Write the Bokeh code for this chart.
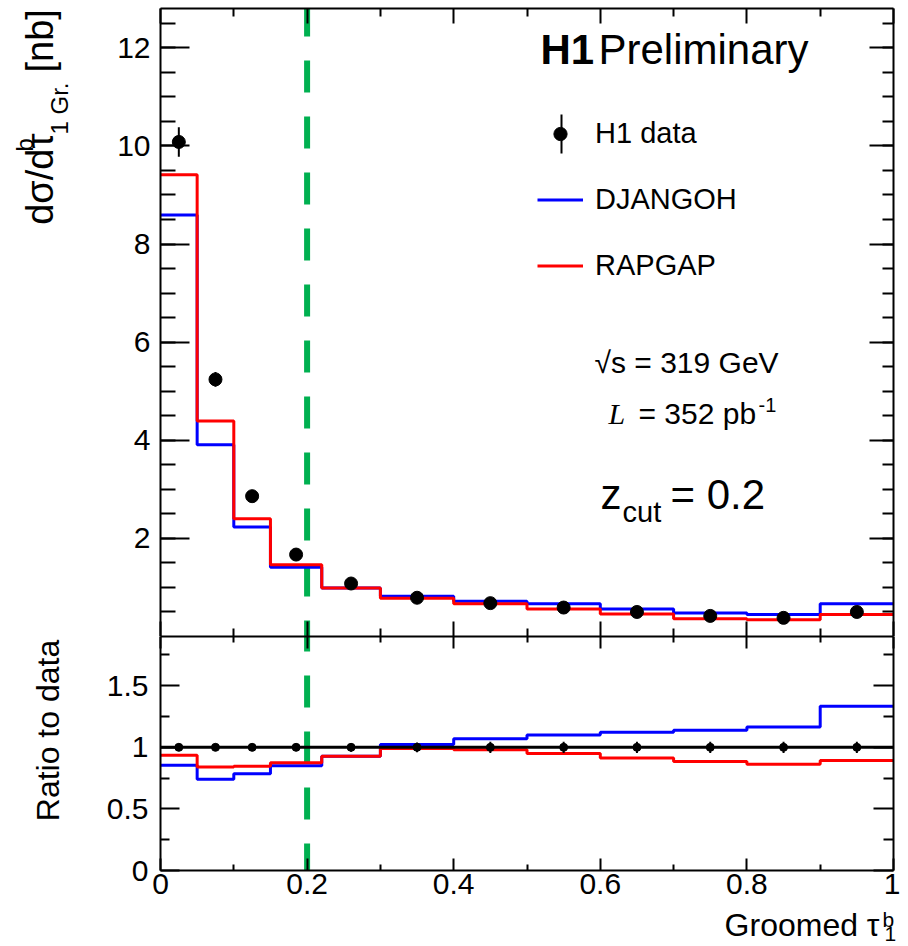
import math
from bokeh.plotting import figure
from bokeh.models import (FixedTicker, LinearAxis, Range1d, Label, Legend, LegendItem,
                          BoxAnnotation, ColumnDataSource)
from bokeh.layouts import column, row
from bokeh.embed import file_html
from bokeh.resources import INLINE

# ---------------- data ----------------
bin_edges = [0.0, 0.05, 0.10, 0.15, 0.22, 0.30, 0.40, 0.50, 0.60, 0.70, 0.80, 0.90, 1.00]
bin_centers = [0.025, 0.075, 0.125, 0.185, 0.26, 0.35, 0.45, 0.55, 0.65, 0.75, 0.85, 0.95]
data_xsec = [10.08, 5.24, 2.86, 1.67, 1.08, 0.79, 0.68, 0.59, 0.50, 0.42, 0.38, 0.50]
data_err = [0.30, 0.15, 0.09, 0.05, 0.04, 0.03, 0.03, 0.027, 0.023, 0.019, 0.017, 0.023]
djangoh_xsec = [8.59, 3.91, 2.23, 1.41, 0.99, 0.82, 0.72, 0.67, 0.56, 0.48, 0.45, 0.67]
rapgap_xsec = [9.41, 4.39, 2.40, 1.46, 0.99, 0.78, 0.67, 0.56, 0.46, 0.36, 0.34, 0.45]

ratio_data = [1.0, 1.0, 1.0, 1.0, 1.0, 1.0, 1.0, 1.0, 1.0, 1.0, 1.0, 1.0]
ratio_data_err = [0.03, 0.03, 0.03, 0.03, 0.035, 0.04, 0.045, 0.045, 0.045, 0.045, 0.045, 0.045]
ratio_djangoh = [0.854, 0.74, 0.786, 0.851, 0.927, 1.024, 1.07, 1.10, 1.122, 1.138, 1.165, 1.333]
ratio_rapgap = [0.935, 0.84, 0.846, 0.875, 0.927, 0.99, 0.98, 0.949, 0.913, 0.886, 0.862, 0.894]

z_cut = 0.2

x_ticks = [0.0, 0.2, 0.4, 0.6, 0.8, 1.0]
x_tick_labels = ["0", "0.2", "0.4", "0.6", "0.8", "1"]
x_minor = [0.1, 0.3, 0.5, 0.7, 0.9]
top_y_ticks = [2, 4, 6, 8, 10, 12]
top_y_tick_labels = ["2", "4", "6", "8", "10", "12"]
top_y_minor = [0.5 * i for i in range(1, 26)]
ratio_y_ticks = [0.0, 0.5, 1.0, 1.5]
ratio_y_tick_labels = ["0", "0.5", "1", "1.5"]
ratio_y_minor = [0.25, 0.75, 1.25, 1.75]

top_range = (0.0, 12.8)
ratio_range = (0.0, 1.9)

FONT = "Liberation Sans"
BLUE = "#0000ff"
RED = "#ff0000"
GREEN = "#00b050"
SHIFT = 0.38  # baseline compensation (fraction of font size)


def step_src(vals):
    return ColumnDataSource(dict(x=bin_edges, y=list(vals) + [vals[-1]]))


def make_axis(fig, place, ticks, minor, major_in, minor_in, labels=None, size="30px", standoff=10):
    ax = LinearAxis(ticker=FixedTicker(ticks=ticks, minor_ticks=minor))
    ax.major_tick_in = major_in
    ax.major_tick_out = 0
    ax.minor_tick_in = minor_in
    ax.minor_tick_out = 0
    ax.axis_line_width = 2
    ax.major_tick_line_width = 2
    ax.minor_tick_line_width = 2
    ax.axis_line_color = "black"
    ax.major_tick_line_color = "black"
    ax.minor_tick_line_color = "black"
    if labels is not None:
        ax.major_label_overrides = {t: l for t, l in zip(ticks, labels)}
        ax.major_label_text_font = FONT
        ax.major_label_text_font_size = size
        ax.major_label_text_color = "black"
        ax.major_label_standoff = standoff
    else:
        ax.major_label_text_font_size = "1px"
        ax.major_label_text_color = None
        ax.major_label_standoff = 0
    fig.add_layout(ax, place)
    return ax


def lbl(fig, x, y, text, size_px, align="left", angle=0.0, style="normal", font=FONT):
    d = SHIFT * size_px
    if angle == 0.0:
        y = y + d
    else:
        x = x - d
    fig.add_layout(Label(x=x, y=y, x_units="screen", y_units="screen", text=text,
                         text_font=font, text_font_size=f"{size_px}px", text_font_style=style,
                         text_align=align, text_baseline="alphabetic", angle=angle,
                         text_color="black"))


def blank_fig(w, h):
    f = figure(width=w, height=h, x_range=Range1d(0, 1), y_range=Range1d(0, 1),
               output_backend="svg", toolbar_location=None,
               x_axis_location=None, y_axis_location=None,
               min_border_left=0, min_border_right=0, min_border_top=0, min_border_bottom=0)
    f.outline_line_color = None
    f.grid.visible = False
    f.background_fill_color = "white"
    f.border_fill_color = "white"
    return f


# ---------------- top panel ----------------
top = figure(width=824, height=636, x_range=Range1d(0, 1), y_range=Range1d(*top_range),
             output_backend="svg", toolbar_location=None,
             x_axis_location=None, y_axis_location=None,
             min_border_left=84, min_border_right=7, min_border_top=8, min_border_bottom=0)
top.outline_line_color = None
top.grid.visible = False
top.background_fill_color = "white"
top.border_fill_color = "white"

make_axis(top, "left", top_y_ticks, top_y_minor, 29, 15, top_y_tick_labels)
make_axis(top, "right", top_y_ticks, top_y_minor, 24, 11)
make_axis(top, "above", x_ticks, x_minor, 15, 8)
make_axis(top, "below", x_ticks, x_minor, 15, 8)

top.segment(x0=[z_cut], y0=[top_range[0]], x1=[z_cut], y1=[top_range[1]],
            line_color=GREEN, line_width=6, line_dash="32 24", line_dash_offset=16)

r_blue = top.step("x", "y", source=step_src(djangoh_xsec), mode="after", line_color=BLUE, line_width=3)
r_red = top.step("x", "y", source=step_src(rapgap_xsec), mode="after", line_color=RED, line_width=3)

top.segment(x0=bin_centers, x1=bin_centers,
            y0=[v - e for v, e in zip(data_xsec, data_err)],
            y1=[v + e for v, e in zip(data_xsec, data_err)],
            line_color="black", line_width=2)
r_data = top.scatter(bin_centers, data_xsec, size=13, color="black")

legend = Legend(items=[LegendItem(label="H1 data", renderers=[r_data]),
                       LegendItem(label="DJANGOH", renderers=[r_blue]),
                       LegendItem(label="RAPGAP", renderers=[r_red])],
                location=(377, 354), glyph_width=46, glyph_height=33, label_height=33,
                spacing=33, padding=0, margin=0, label_standoff=12,
                border_line_color=None, background_fill_alpha=0,
                label_text_font=FONT, label_text_font_size="29px", label_text_color="black")
top.add_layout(legend)
top.add_layout(BoxAnnotation(left=400, right=402, top=522, bottom=483,
                             left_units="screen", right_units="screen",
                             top_units="screen", bottom_units="screen",
                             fill_color="black", fill_alpha=1, line_color=None))

lbl(top, 380, 571, "H1", 42, style="bold")
lbl(top, 438, 571, "Preliminary", 42)
lbl(top, 434, 263, "\u221As = 319 GeV", 30)
lbl(top, 448, 212, "L", 30, style="italic", font="Liberation Serif")
lbl(top, 478, 212, "= 352 pb", 30)
lbl(top, 598, 224, "-1", 20)
lbl(top, 440, 126, "z", 42)
lbl(top, 462, 113, "cut", 29)
lbl(top, 510, 126, "= 0.2", 42)

# ---------------- ratio panel ----------------
bot = figure(width=824, height=271, x_range=top.x_range, y_range=Range1d(*ratio_range),
             output_backend="svg", toolbar_location=None,
             x_axis_location=None, y_axis_location=None,
             min_border_left=84, min_border_right=7, min_border_top=0, min_border_bottom=37)
bot.outline_line_color = None
bot.grid.visible = False
bot.background_fill_color = "white"
bot.border_fill_color = "white"

make_axis(bot, "left", ratio_y_ticks, ratio_y_minor, 19, 9, ratio_y_tick_labels, standoff=12)
make_axis(bot, "right", ratio_y_ticks, ratio_y_minor, 20, 10)
make_axis(bot, "above", x_ticks, x_minor, 12, 6)
make_axis(bot, "below", x_ticks, x_minor, 12, 6, x_tick_labels, standoff=3)

bot.segment(x0=[z_cut], y0=[ratio_range[0]], x1=[z_cut], y1=[ratio_range[1]],
            line_color=GREEN, line_width=6, line_dash="32 24", line_dash_offset=5)

bot.step("x", "y", source=step_src(ratio_djangoh), mode="after", line_color=BLUE, line_width=3)
bot.step("x", "y", source=step_src(ratio_rapgap), mode="after", line_color=RED, line_width=3)
bot.step("x", "y", source=step_src(ratio_data), mode="after", line_color="black", line_width=3)
bot.segment(x0=bin_centers, x1=bin_centers,
            y0=[v - e for v, e in zip(ratio_data, ratio_data_err)],
            y1=[v + e for v, e in zip(ratio_data, ratio_data_err)],
            line_color="black", line_width=2)
bot.scatter(bin_centers, ratio_data, size=8, color="black")

# ---------------- axis titles (separate strips so they are not clipped) ----------------
A = math.pi / 2
ytitle = blank_fig(76, 907)          # page y 0..907, x 0..76
lbl(ytitle, 54, 774, "d\u03c3/d\u03c4", 38, align="right", angle=A)
lbl(ytitle, 33, 756, "b", 24, angle=A)
lbl(ytitle, 68, 773, "1 Gr.", 24, angle=A)
lbl(ytitle, 54, 835, "[nb]", 38, angle=A)
lbl(ytitle, 60, 177, "Ratio to data", 32, align="center", angle=A)

xtitle = blank_fig(900, 38)          # page y 907..945, x 0..900
lbl(xtitle, 879, 8, "Groomed \u03c4", 32, align="right")
lbl(xtitle, 882, 18, "b", 21)
lbl(xtitle, 884, 4, "1", 21)

layout = column(row(ytitle, column(top, bot)), xtitle)
open("out.html", "w").write(file_html(layout, INLINE))
